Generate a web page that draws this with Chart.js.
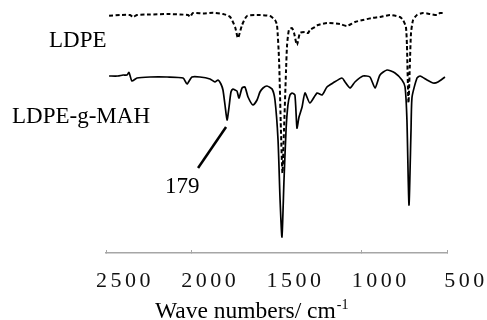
<!DOCTYPE html>
<html>
<head>
<meta charset="utf-8">
<script src="https://cdn.jsdelivr.net/npm/chart.js@4.4.1/dist/chart.umd.min.js"></script>
<style>
  html, body { margin: 0; padding: 0; background: #fff; }
  canvas { display: block; }
</style>
</head>
<body>
<canvas id="c" width="487" height="320"></canvas>
<script>
// Wavenumbers (cm-1) and relative transmittance (a.u.)
const ldpeWave = [2482,2418,2359,2342,2318,2242,2142,2066,2019,2007,1990,1931,1872,1814,1773,1743,1726,1702,1673,1597,1538,1509,1497,1485,1474,1465,1456,1444,1438,1427,1409,1397,1380,1362,1333,1315,1304,1274,1257,1204,1128,1087,1040,993,940,893,834,776,758,741,735,726,717,711,699,676,641,600,559,541,512];
const ldpeT    = [94.9,95.2,95.2,94.4,95.2,95.4,95.6,95.4,95.2,94.5,96.0,95.8,96.1,95.6,94.5,90.4,86.0,91.2,94.8,95.2,94.8,93.2,91.2,77.2,49.2,32.0,49.2,73.2,83.2,89.2,90.0,88.0,83.2,88.0,88.4,88.0,89.2,90.4,91.2,92.0,91.6,90.8,92.4,93.2,94.0,94.4,95.2,94.4,93.2,90.4,83.2,60.0,77.2,88.0,93.2,95.2,96.0,95.6,95.2,96.0,96.0];

const mahWave = [2482,2430,2400,2377,2365,2348,2318,2242,2142,2048,2025,1996,1949,1890,1861,1843,1826,1814,1802,1790,1779,1767,1755,1743,1732,1720,1702,1685,1667,1638,1614,1597,1579,1556,1526,1509,1491,1479,1468,1456,1444,1433,1421,1409,1392,1380,1368,1350,1333,1304,1262,1233,1204,1169,1116,1098,1069,1040,993,952,922,893,852,805,764,746,735,723,711,705,676,658,617,582,553,512];
const mahT     = [70.8,70.8,71.2,71.2,72.2,68.8,70.0,70.4,70.4,70.0,67.6,70.4,70.4,69.6,68.4,69.2,67.6,65.2,59.2,53.2,58.0,64.4,65.6,65.2,64.8,62.0,66.0,66.4,62.4,59.2,61.2,64.4,66.0,66.8,65.6,61.2,45.2,21.2,6.4,29.2,49.2,59.2,63.2,64.0,63.2,50.0,54.4,58.4,64.0,60.0,64.0,63.2,66.4,68.0,70.0,68.4,66.0,68.4,70.8,70.4,66.0,71.2,73.2,72.0,69.2,66.4,53.2,19.2,49.2,62.4,70.0,70.8,69.2,68.0,68.4,70.4];

const xTicks = [2500, 2000, 1500, 1000, 500];
const seriesNames = ['LDPE', 'LDPE-g-MAH'];
const peakLabel = '179';
const peakWave = 1790;
const axisTitle = 'Wave numbers/ cm';
const axisTitleSup = '-1';

const SERIF = "'Liberation Serif', 'Times New Roman', serif";

const toXY = (xs, ys) => xs.map((x, i) => ({ x, y: ys[i] }));

const annot = {
  id: 'annot',
  beforeDraw(chart) {
    chart.ctx.letterSpacing = '3.5px';
  },
  beforeDatasetsDraw(chart) {
    chart.ctx.letterSpacing = '0px';
  },
  afterDraw(chart) {
    const ctx = chart.ctx;
    const xs = chart.scales.x, ys = chart.scales.y;
    ctx.save();
    ctx.letterSpacing = '0px';
    ctx.fillStyle = '#000';
    ctx.textAlign = 'left';
    ctx.textBaseline = 'alphabetic';
    ctx.font = '23px ' + SERIF;
    ctx.fillText(seriesNames[0], 49, 47);
    ctx.fillText(seriesNames[1], 12, 123);
    ctx.fillText(peakLabel, 165, 193);
    // leader line to the 1790 peak
    const idx = mahWave.indexOf(peakWave);
    const px = xs.getPixelForValue(peakWave) - 1;
    const py = ys.getPixelForValue(mahT[idx]) + 7;
    ctx.strokeStyle = '#000';
    ctx.lineWidth = 2.5;
    ctx.beginPath();
    ctx.moveTo(px, py);
    ctx.lineTo(px - 28, py + 41);
    ctx.stroke();
    // axis title with superscript
    ctx.font = '23.5px ' + SERIF;
    ctx.fillText(axisTitle, 155, 318);
    const w = ctx.measureText(axisTitle).width;
    ctx.font = '14px ' + SERIF;
    ctx.fillText(axisTitleSup, 155 + w + 1, 309);
    ctx.restore();
  }
};

new Chart(document.getElementById('c'), {
  type: 'line',
  data: {
    datasets: [
      {
        label: seriesNames[0],
        data: toXY(ldpeWave, ldpeT),
        borderColor: '#000',
        borderWidth: 2,
        borderDash: [4, 2.5],
        pointRadius: 0,
        tension: 0.2,
        fill: false
      },
      {
        label: seriesNames[1],
        data: toXY(mahWave, mahT),
        borderColor: '#000',
        borderWidth: 1.7,
        pointRadius: 0,
        tension: 0.2,
        fill: false
      }
    ]
  },
  options: {
    responsive: false,
    animation: false,
    devicePixelRatio: 1,
    layout: { padding: { left: 106, right: 40, top: 3, bottom: 0 } },
    plugins: { legend: { display: false }, tooltip: { enabled: false } },
    scales: {
      x: {
        type: 'linear',
        reverse: true,
        min: 500,
        max: 2500,
        afterBuildTicks: (s) => { s.ticks = xTicks.map(v => ({ value: v })); },
        afterFit: (s) => { s.height = 67; },
        ticks: {
          font: { family: SERIF, size: 22 },
          color: '#111',
          padding: 18,
          labelOffset: 19,
          maxRotation: 0,
          autoSkip: false,
          callback: (v) => String(v)
        },
        grid: {
          drawOnChartArea: false,
          drawTicks: true,
          tickLength: -3,
          tickWidth: 1,
          tickColor: (c) => (c.tick && c.tick.value === 1500) ? 'rgba(0,0,0,0)' : '#a6a6a6'
        },
        border: { display: true, color: '#a6a6a6', width: 1.5 }
      },
      y: {
        display: false,
        min: 0,
        max: 100
      }
    }
  },
  plugins: [annot]
});
</script>
</body>
</html>
